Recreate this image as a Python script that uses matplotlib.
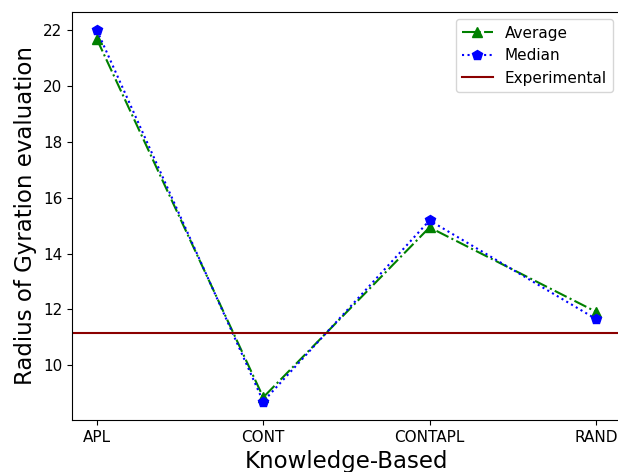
import numpy as np
from matplotlib import pyplot as plt

categories = ['APL', 'CONT', 'CONTAPL', 'RAND']
average = [21.68, 8.85, 14.94, 11.92]
median = [22.0, 8.70, 15.19, 11.66]
experimental = 11.15

fig = plt.figure(figsize=(6.18, 4.72), dpi=100)
ax = fig.add_axes([0.1165, 0.110, 0.888, 0.865])

x = np.arange(len(categories))
ax.plot(x, average, color='g', linestyle='-.', marker='^', markersize=7, label='Average')
ax.plot(x, median, color='b', linestyle=':', marker='p', markersize=7, label='Median')
ax.axhline(experimental, color='darkred', label='Experimental')

ax.set_xticks(x)
ax.set_xticklabels(categories)
ax.tick_params(labelsize=11)
ax.set_xlim(-0.15, 3.15)
ax.set_xlabel('Knowledge-Based', fontsize=16.5)
ax.set_ylabel('Radius of Gyration evaluation', fontsize=16.5)
ax.legend(loc='upper right', fontsize=11)

fig.savefig('out.png', dpi=100)
